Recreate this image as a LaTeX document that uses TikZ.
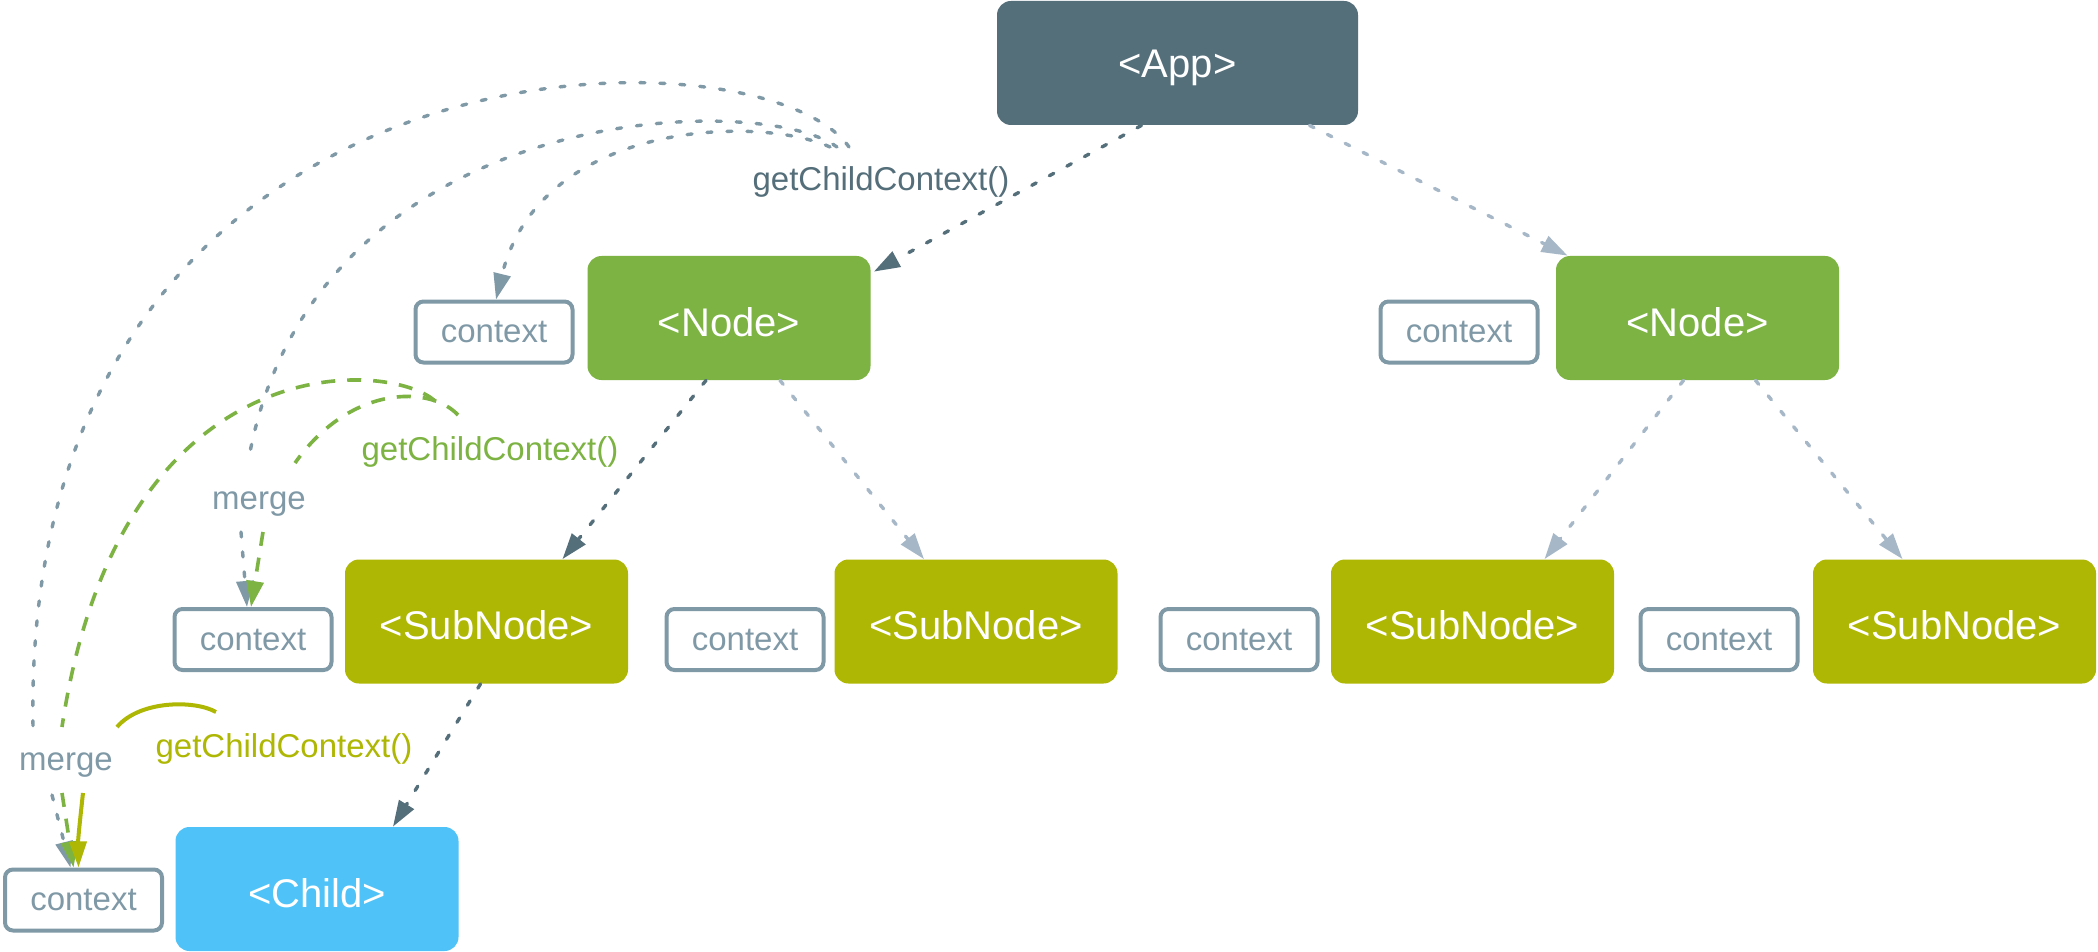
\documentclass[tikz,border=0pt]{standalone}
\usepackage{fontspec}
\setmainfont{Liberation Sans}
\usetikzlibrary{arrows.meta}
\definecolor{appc}{HTML}{546E7A}
\definecolor{nodec}{HTML}{7CB342}
\definecolor{subc}{RGB}{174,183,3}
\definecolor{childc}{HTML}{4FC3F7}
\definecolor{ctxc}{RGB}{128,153,167}
\definecolor{lightc}{RGB}{166,184,200}
\begin{document}
\begin{tikzpicture}[x=0.5pt,y=-0.5pt,
  big/.style={rounded corners=7pt, minimum width=141.5pt, minimum height=62pt, text=white, font=\fontsize{20}{24}\selectfont, inner sep=0pt, text height=18.4pt, text depth=0pt},
  ctx/.style={draw=ctxc, line width=2pt, rounded corners=4pt, fill=white, minimum width=78.5pt, minimum height=30.5pt, text=ctxc, font=\fontsize{16.5}{20}\selectfont, inner sep=0pt},
  lbl/.style={font=\fontsize{16.5}{20}\selectfont, inner sep=0pt},
  tip/.style={-{Triangle[length=13pt,width=8.5pt]}},
  dotline/.style={tip, line width=1.7pt, line cap=round, dash pattern=on 2.5pt off 7.5pt},
  darkarrow/.style={dotline, draw=appc},
  lightarrow/.style={dotline, draw=lightc},
  greyarrow/.style={dotline, draw=ctxc},
  greencurve/.style={tip, line width=1.8pt, draw=nodec, dash pattern=on 7pt off 6pt},
  olivecurve/.style={tip, line width=2pt, draw=subc}
]
\useasboundingbox (0,0) rectangle (2098,952);
\fill[white] (0,0) rectangle (2098,952);

% boxes
\node[big, fill=appc, minimum width=180.5pt, text height=14.4pt] (app) at (1177.5,63) {<App>};
\node[big, fill=nodec] (n1) at (729,318) {<Node>};
\node[big, fill=nodec] (n2) at (1697.5,318) {<Node>};
\node[ctx] (c1) at (494,332) {context};
\node[ctx] (c2) at (1459,332) {context};
\node[big, fill=subc] (s1) at (486.5,621.5) {<SubNode>};
\node[big, fill=subc] (s2) at (976,621.5) {<SubNode>};
\node[big, fill=subc] (s3) at (1472.5,621.5) {<SubNode>};
\node[big, fill=subc] (s4) at (1954.5,621.5) {<SubNode>};
\node[ctx] (c3) at (253,639.5) {context};
\node[ctx] (c4) at (745,639.5) {context};
\node[ctx] (c5) at (1239,639.5) {context};
\node[ctx] (c6) at (1719,639.5) {context};
\node[big, fill=childc] (child) at (317,889) {<Child>};
\node[ctx] (c7) at (83.5,900) {context};

% labels
\node[lbl, text=appc] (gcc0) at (881,182) {getChildContext()};
\node[lbl, text=nodec] (gcc1) at (490,452) {getChildContext()};
\node[lbl, text=subc] (gcc2) at (284,749) {getChildContext()};
\node[lbl, text=ctxc] (m1) at (259,504) {merge};
\node[lbl, text=ctxc] (m2) at (66,765) {merge};

% tree arrows
\draw[darkarrow] ([xshift=-18pt]app.south) -- ([xshift=1.5pt,yshift=-8pt]n1.north east);
\draw[lightarrow] ([xshift=66pt]app.south) -- ([xshift=6pt]n2.north west);
\draw[darkarrow] ([xshift=-11.5pt]n1.south) -- ([xshift=38pt]s1.north);
\draw[lightarrow] ([xshift=25.5pt]n1.south) -- ([xshift=-26pt]s2.north);
\draw[lightarrow] ([xshift=-7pt]n2.south) -- ([xshift=36pt]s3.north);
\draw[lightarrow] ([xshift=29pt]n2.south) -- ([xshift=-26pt]s4.north);
\draw[darkarrow] ([xshift=-3pt]s1.south) -- ([xshift=38pt]child.north);

% curve end points
\coordinate (ga) at (830,147);
\coordinate (gb) at (837,147);
\coordinate (gc) at (849,147);
\coordinate (gb1) at (248,463);
\coordinate (gb2) at (241,532);
\coordinate (gc1) at (33,727);
\coordinate (gc2) at (52,795);
\coordinate (ea) at (435,401);
\coordinate (ea1) at (62,727);
\coordinate (ea2) at (62,793);
\coordinate (eb) at (458,415);
\coordinate (eb1) at (295,463);
\coordinate (eb2) at (263,532);
\coordinate (oa) at (216,712);
\coordinate (oa1) at (117,727);
\coordinate (oa2) at (83,793);

% grey context curves
\draw[greyarrow] (ga) .. controls (760,115) and (540,120) .. ([xshift=1pt]c1.north);
\draw[dotline, draw=ctxc, -] (gb) .. controls (760,90) and (310,100) .. (gb1);
\draw[greyarrow] (gb2) -- ([xshift=-3pt]c3.north);
\draw[dotline, draw=ctxc, -] (gc) .. controls (760,20) and (20,20) .. (gc1);
\draw[greyarrow] (gc2) -- ([xshift=-6.5pt]c7.north);

% green curves
\draw[greencurve, -] (ea) .. controls (390,360) and (120,340) .. (ea1);
\draw[greencurve] (ea2) -- ([xshift=-5pt]c7.north);
\draw[greencurve, -] (eb) .. controls (430,385) and (350,385) .. (eb1);
\draw[greencurve] (eb2) -- ([xshift=-1pt]c3.north);

% olive curve
\draw[olivecurve, -] (oa) .. controls (195,700) and (140,700) .. (oa1);
\draw[olivecurve] (oa2) .. controls (80,820) and (78,840) .. ([xshift=-2.5pt]c7.north);
\end{tikzpicture}
\end{document}
